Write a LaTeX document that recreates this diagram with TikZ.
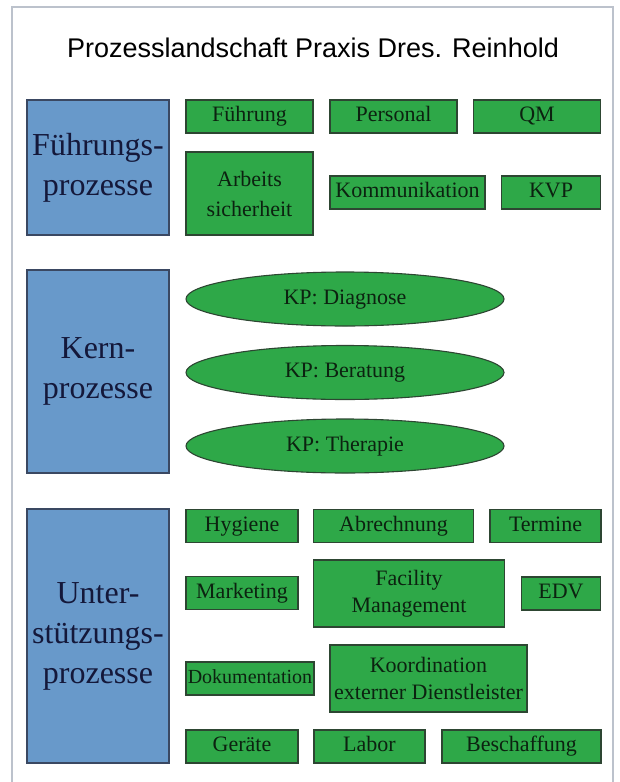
\documentclass[tikz,border=0pt]{standalone}
\usepackage{fontspec}
\setmainfont{Liberation Serif}
\newfontfamily\titlefont{Liberation Sans}
\usetikzlibrary{shapes.geometric}

\definecolor{gruen}{RGB}{46,168,72}
\definecolor{gruenrand}{RGB}{45,70,50}
\definecolor{gruentext}{RGB}{12,34,16}
\definecolor{blau}{RGB}{104,153,202}
\definecolor{blaurand}{RGB}{58,72,98}
\definecolor{blautext}{RGB}{20,24,58}
\definecolor{rahmen}{RGB}{188,194,204}

\begin{document}
\begin{tikzpicture}[x=1pt, y=-1pt, line width=1.1pt,
	gruppe/.style={draw=blaurand, fill=blau, text=blautext, align=center, inner sep=0pt,
		font=\fontsize{32}{40}\selectfont, minimum width=142pt},
	feld/.style={draw=gruenrand, fill=gruen, text=gruentext, align=center, inner sep=0pt,
		font=\fontsize{22}{27}\selectfont},
	prozess/.style={feld, text height=15pt, text depth=5pt},
	kern/.style={prozess, ellipse, minimum width=318pt, minimum height=54pt}]
\useasboundingbox (0,0) rectangle (619,782);
\draw [rahmen, line width=1.4pt] (12,782)--(12,7)--(613,7)--(613,782);

\node (titel) at (313,48) {\titlefont\fontsize{27}{32}\selectfont Prozesslandschaft Praxis Dres. Reinhold};

% Gruppen
\node [gruppe, minimum height=135pt] (fp) at (98,167.5) {Führungs-\\prozesse};
\node [gruppe, minimum height=203pt] (kp) at (98,371.5) {Kern-\\prozesse};
\node [gruppe, minimum height=254pt] (up) at (98,636) {Unter-\\stützungs-\\prozesse};

% Fuehrungsprozesse
\node [prozess, minimum width=127pt, minimum height=33pt] (fuehrung) at (249.5,116.5) {Führung};
\node [prozess, minimum width=127pt, minimum height=33pt] (personal) at (393.5,116.5) {Personal};
\node [prozess, minimum width=127pt, minimum height=33pt] (qm) at (537,116.5) {QM};
\node [feld, minimum width=127pt, minimum height=83pt, font=\fontsize{22}{30}\selectfont] (arbeit) at (249.5,193.5) {Arbeits\\sicherheit};
\node [prozess, minimum width=155pt, minimum height=33pt] (komm) at (407.5,192.5) {Kommunikation};
\node [prozess, minimum width=99pt, minimum height=33pt] (kvp) at (551,192.5) {KVP};

% Kernprozesse
\foreach \i/\y/\txt in {1/299/Diagnose, 2/372.5/Beratung, 3/446/Therapie}{
	\node [kern] (k\i) at (345,\y) {KP: \txt};
}

% Unterstuetzungsprozesse
\node [prozess, minimum width=112pt, minimum height=33pt] (hygiene) at (242,526) {Hygiene};
\node [prozess, minimum width=160pt, minimum height=33pt] (abrechnung) at (393.5,526) {Abrechnung};
\node [prozess, minimum width=111pt, minimum height=33pt] (termine) at (545.5,526) {Termine};
\node [prozess, minimum width=112pt, minimum height=33pt] (marketing) at (242,593) {Marketing};
\node [feld, minimum width=191pt, minimum height=67pt] (facility) at (409,593.5) {Facility\\Management};
\node [prozess, minimum width=79pt, minimum height=33pt] (edv) at (561,593.5) {EDV};
\node [prozess, minimum width=128pt, minimum height=33pt, font=\fontsize{20}{24}\selectfont] (doku) at (250,678.5) {Dokumentation};
\node [feld, minimum width=197pt, minimum height=67pt] (koord) at (428.5,678.5) {Koordination\\externer Dienstleister};
\node [prozess, minimum width=112pt, minimum height=33pt] (geraete) at (242,746.5) {Geräte};
\node [prozess, minimum width=111pt, minimum height=33pt] (labor) at (369.5,746.5) {Labor};
\node [prozess, minimum width=159pt, minimum height=33pt] (beschaffung) at (521.5,746.5) {Beschaffung};

\end{tikzpicture}
\end{document}
